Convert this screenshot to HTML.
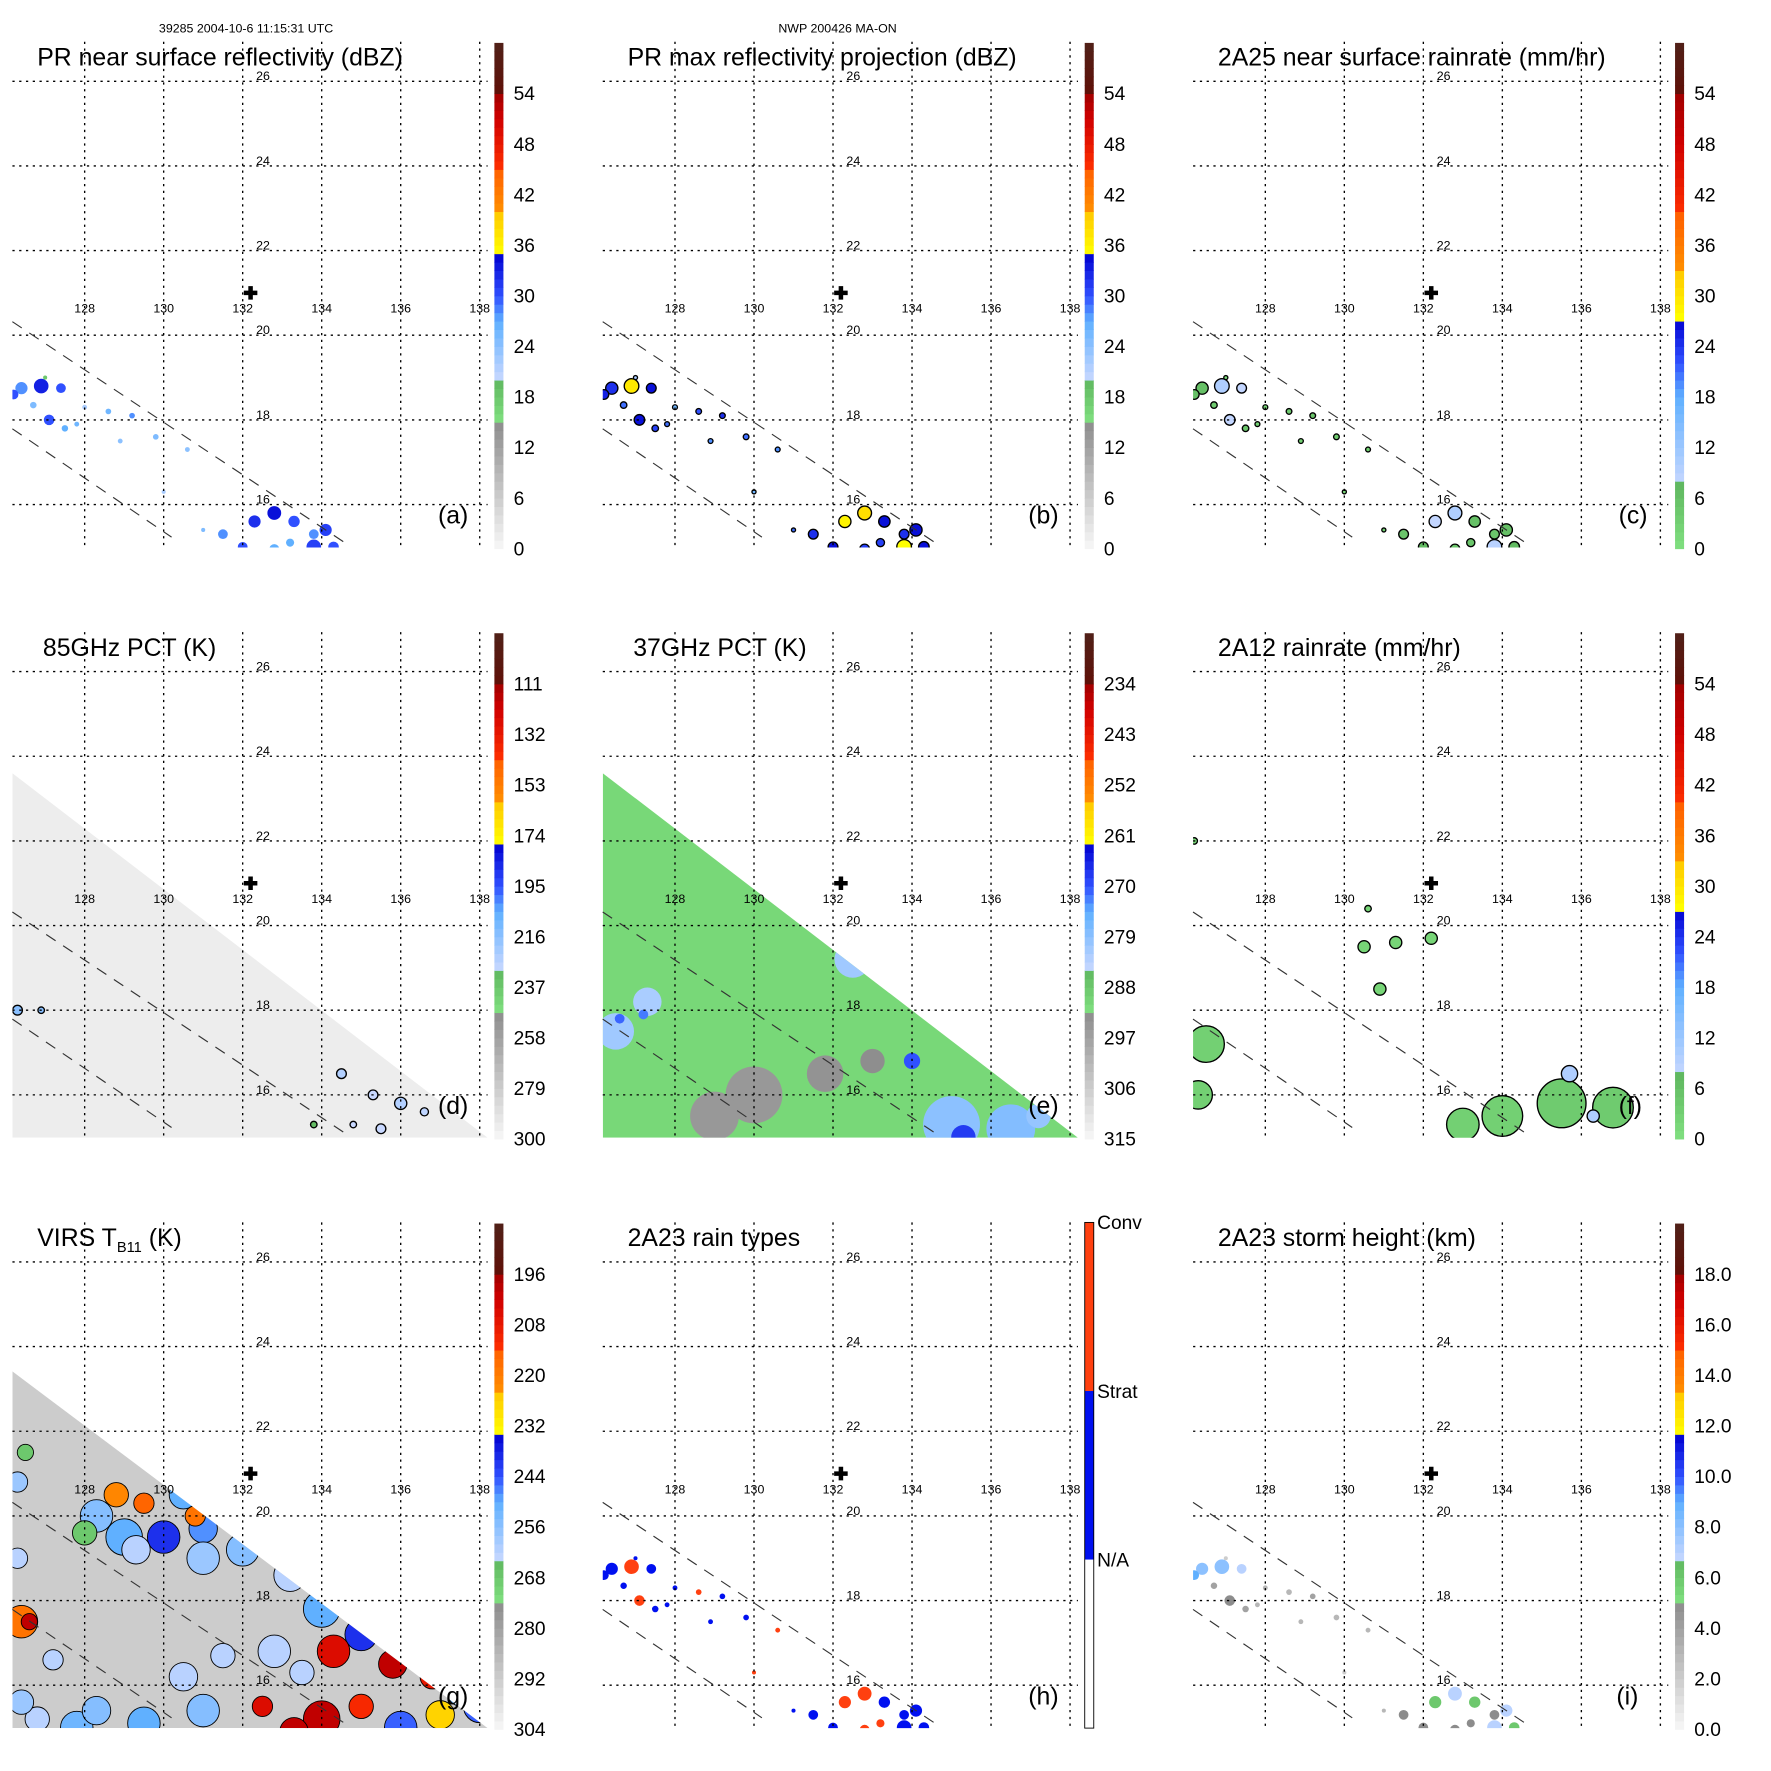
<!DOCTYPE html>
<html><head><meta charset="utf-8"><style>
html,body{margin:0;padding:0;background:#fff;}
svg{display:block;font-family:"Liberation Sans",sans-serif;}
</style></head><body>
<svg id="fig" width="1771" height="1771" viewBox="0 0 1569 1569" xmlns="http://www.w3.org/2000/svg">
<text x="218" y="29" font-size="11" text-anchor="middle">39285 2004-10-6 11:15:31 UTC</text>
<text x="742" y="29" font-size="11" text-anchor="middle">NWP 200426 MA-ON</text>
</svg>
<script>
// ---- data arrays ----
const gridLons = [128,130,132,134,136,138];
const gridLats = [26,24,22,20,18,16];
const stormCenter = [132.2, 21.0];
const prLon  = [126.4,126.9,127.4,126.7,127.1,127.5,128.0,128.6,129.2,129.8,130.6,131.0,131.5,132.3,132.8,133.3,133.8,132.0,132.8,133.8,134.3,133.2,127.0,128.9,130.0,126.2,127.8,134.1];
const prLat  = [18.75,18.8,18.75,18.35,18.0,17.8,18.3,18.2,18.1,17.6,17.3,15.4,15.3,15.6,15.8,15.6,15.3,15.0,14.95,15.0,15.0,15.1,19.0,17.5,16.3,18.6,17.9,15.4];
const prSize = [0.15,0.18,0.12,0.08,0.13,0.08,0.06,0.07,0.07,0.07,0.06,0.05,0.12,0.15,0.17,0.14,0.12,0.12,0.12,0.18,0.13,0.1,0.05,0.06,0.05,0.12,0.06,0.15];
const reflNS  = [28,33,30,25,30,27,22,26,28,25,24,25,28,32,34,30,28,30,27,31,30,27,18,24,22,30,26,31];
const reflMax = [32,37,34,29,34,31,26,30,32,29,28,29,32,36,38,34,32,34,31,35,34,31,22,28,26,33,29,34];
const rain2A25 = [6,10,8,4,8,5,2,4,5,4,3,3,5,8,10,6,5,7,5,9,7,5,1,3,2,6,3,6];
const rainType = [1,2,1,1,2,1,1,2,1,1,2,1,1,2,2,1,1,1,2,1,1,2,1,1,2,1,1,1];
const stormH  = [8,8,7,4,5,4,3,3,4,3,3,3,5,6,7,6,5,5,5,7,6,5,2,3,2,9,3,7];
const pct85Lon = [126.3,126.9,134.5,135.3,136.0,134.8,135.5,136.6,133.8];
const pct85Lat = [18.0,18.0,16.5,16.0,15.8,15.3,15.2,15.6,15.3];
const pct85Sz  = [0.12,0.08,0.12,0.12,0.15,0.08,0.12,0.1,0.08];
const pct85Val = [215,215,225,230,225,230,230,228,232];
const pct37Lon = [130,129,131.8,133,126.5,127.3,132.5,135,136.5,134,135.3,137.2,126.6,127.2];
const pct37Lat = [16,15.5,16.5,16.8,17.5,18.2,19.2,15.3,15.2,16.8,15.0,15.5,17.8,17.9];
const pct37Sz  = [0.7,0.6,0.45,0.3,0.45,0.35,0.45,0.7,0.6,0.2,0.3,0.3,0.12,0.12];
const pct37Val = [295,295,294,293,281,282,281,279,278,270,268,280,271,272];
const r12Lon = [126.5,126.3,134,135.5,136.8,133,130.5,131.3,132.2,130.9,130.6,126.2,135.7,136.3];
const r12Lat = [17.2,16.0,15.5,15.8,15.7,15.3,19.5,19.6,19.7,18.5,20.4,22.0,16.5,15.5];
const r12Sz  = [0.45,0.35,0.5,0.6,0.5,0.4,0.15,0.15,0.15,0.15,0.08,0.08,0.2,0.15];
const r12Val = [3,3,3,4,4,3,2,2,2,2,2,2,10,10];
const virsLon = [128.3,129,130,131,132,133.2,134,135,136.5,137.5,138,136,132.8,131,129.5,127.8,126.8,126.3,126.3,128.8,129.5,130.5,130.8,131.5,132.2,133,134.5,135.3,134.3,135.8,136.8,137,134,135,132.5,133.5,126.4,126.6,127.2,126.4,128.3,130.5,131.5,126.5,128,129.3,131,136,137.5,133.3];
const virsLat = [20.0,19.5,19.5,19.7,19.2,18.6,17.8,17.2,16.8,16.3,15.5,15,16.8,15.4,15.1,15.0,15.2,20.8,19,20.5,20.3,20.5,20.0,20.3,19.8,19.2,18.2,17.8,16.8,16.5,16.2,15.3,15.2,15.5,15.5,16.3,17.5,17.5,16.6,15.6,15.4,16.2,16.7,21.5,19.6,19.2,19.0,17,15.8,14.9];
const virsSz  = [0.4,0.45,0.4,0.35,0.4,0.4,0.45,0.4,0.4,0.35,0.4,0.4,0.4,0.4,0.4,0.4,0.3,0.25,0.25,0.3,0.25,0.35,0.25,0.3,0.3,0.35,0.45,0.3,0.4,0.35,0.3,0.35,0.45,0.3,0.25,0.3,0.4,0.2,0.25,0.3,0.35,0.35,0.3,0.2,0.3,0.35,0.4,0.3,0.3,0.35];
const virsVal = [255,250,240,248,255,262,250,240,248,252,245,245,262,255,250,252,262,258,262,222,215,250,218,225,232,250,222,210,205,200,208,226,200,212,205,262,218,200,262,258,255,262,262,268,268,262,258,245,250,200];
const ticksA = ["0","6","12","18","24","30","36","42","48","54"];
const ticksD = ["300","279","258","237","216","195","174","153","132","111"];
const ticksE = ["315","306","297","288","279","270","261","252","243","234"];
const ticksG = ["304","292","280","268","256","244","232","220","208","196"];
const ticksI = ["0.0","2.0","4.0","6.0","8.0","10.0","12.0","14.0","16.0","18.0"];
const typeLabels = ["N/A","Strat","Conv"];

const reflRamp = [[0,"#f8f8f8"],[0.25,"#8c8c8c"],[0.2501,"#80e080"],[0.333,"#60b860"],[0.3331,"#c8d8ff"],[0.45,"#60b0ff"],[0.5,"#3050ff"],[0.583,"#0000d0"],[0.5831,"#ffff00"],[0.666,"#ffc800"],[0.6661,"#ff9000"],[0.75,"#ff6000"],[0.7501,"#ff3000"],[0.85,"#d00000"],[0.9,"#a00000"],[0.9001,"#601008"],[1,"#502018"]];
const rainRamp = [[0,"#80e080"],[0.125,"#60b860"],[0.1251,"#c8d8ff"],[0.3,"#60b0ff"],[0.37,"#3050ff"],[0.455,"#0000d0"],[0.4551,"#ffff00"],[0.55,"#ffc800"],[0.5501,"#ff9000"],[0.66,"#ff6000"],[0.6601,"#ff3000"],[0.8,"#d00000"],[0.9,"#a00000"],[0.9001,"#601008"],[1,"#502018"]];
function hex(c){return [parseInt(c.slice(1,3),16),parseInt(c.slice(3,5),16),parseInt(c.slice(5,7),16)];}
function rampColor(r,f){f=Math.max(0,Math.min(1,f));for(let i=1;i<r.length;i++){if(f<=r[i][0]){const a=hex(r[i-1][1]),b=hex(r[i][1]);const t=(f-r[i-1][0])/((r[i][0]-r[i-1][0])||1);return "rgb("+a.map((v,k)=>Math.round(v+(b[k]-v)*t)).join(",")+")";}}return r[r.length-1][1];}

const NS="http://www.w3.org/2000/svg";
const svg=document.getElementById('fig');
function mk(tag,attrs,parent){const e=document.createElementNS(NS,tag);for(const k in attrs)e.setAttribute(k,attrs[k]);(parent||svg).appendChild(e);return e;}

const panels=[
 {id:"a",ox:0,oy:0,title:"PR near surface reflectivity (dBZ)",ramp:reflRamp,ticks:ticksA,vmin:0,vmax:60,swath:"pr"},
 {id:"b",ox:523,oy:0,title:"PR max reflectivity projection (dBZ)",ramp:reflRamp,ticks:ticksA,vmin:0,vmax:60,swath:"pr"},
 {id:"c",ox:1046,oy:0,title:"2A25 near surface rainrate (mm/hr)",ramp:rainRamp,ticks:ticksA,vmin:0,vmax:60,swath:"pr"},
 {id:"d",ox:0,oy:523,title:"85GHz PCT (K)",ramp:reflRamp,ticks:ticksD,vmin:300,vmax:90,swath:"tmi"},
 {id:"e",ox:523,oy:523,title:"37GHz PCT (K)",ramp:reflRamp,ticks:ticksE,vmin:315,vmax:225,swath:"tmi"},
 {id:"f",ox:1046,oy:523,title:"2A12 rainrate (mm/hr)",ramp:rainRamp,ticks:ticksA,vmin:0,vmax:60,swath:"none"},
 {id:"g",ox:0,oy:1046,title:"VIRS",ramp:reflRamp,ticks:ticksG,vmin:304,vmax:184,swath:"virs"},
 {id:"h",ox:523,oy:1046,title:"2A23 rain types",ramp:null,ticks:null,swath:"pr"},
 {id:"i",ox:1046,oy:1046,title:"2A23 storm height (km)",ramp:reflRamp,ticks:ticksI,vmin:0,vmax:20,swath:"pr"}
];

panels.forEach(p=>{
 const X=lon=>p.ox+75+(lon-128)*35;
 const Y=lat=>p.oy+72-(lat-26)*37.5;
 const R=d=>d*36;
 const L=p.ox+11,T=p.oy+37,Rt=p.ox+432,B=p.oy+485;
 const g=mk('g',{});
 
 
 const cp=mk('clipPath',{id:'clip-'+p.id},g);
 let clipPts;
 if(p.swath==="tmi") clipPts=[[L,p.oy+162],[Rt,B],[L,B]];
 else if(p.swath==="virs") clipPts=[[L,p.oy+169],[Rt,B],[L,B]];
 else clipPts=[[L,T],[Rt,T],[Rt,B],[L,B]];
 mk('polygon',{points:clipPts.map(q=>q.join(',')).join(' ')},cp);
 const dg=mk('g',{'clip-path':'url(#clip-'+p.id+')'},g);
 
 
 const col=v=>rampColor(p.ramp,(v-p.vmin)/(p.vmax-p.vmin));
 function cells(lons,lats,sz,vals,stroke){
  for(let i=0;i<lons.length;i++){
   const c=mk('circle',{cx:X(lons[i]),cy:Y(lats[i]),r:R(sz[i]),fill:col(vals[i])},dg);
   if(stroke){c.setAttribute('stroke','#000');c.setAttribute('stroke-width',stroke);}
   
   
  }
 }
 if(p.id==="a") cells(prLon,prLat,prSize,reflNS,0);
 if(p.id==="b") cells(prLon,prLat,prSize,reflMax,1.2);
 if(p.id==="c") cells(prLon,prLat,prSize,rain2A25,1.2);
 if(p.id==="i") cells(prLon,prLat,prSize,stormH,0);
 if(p.id==="h"){
  for(let i=0;i<prLon.length;i++){
   const c=mk('circle',{cx:X(prLon[i]),cy:Y(prLat[i]),r:R(prSize[i]),fill:rainType[i]===2?"#ff4010":"#0010f0"},dg);
   
   
  }
 }
 if(p.id==="d"){
  mk('rect',{x:L,y:T,width:Rt-L,height:B-T,fill:"#ededed"},dg);
  cells(pct85Lon,pct85Lat,pct85Sz,pct85Val,1.2);
 }
 if(p.id==="e"){
  mk('rect',{x:L,y:T,width:Rt-L,height:B-T,fill:"#78d878"},dg);
  cells(pct37Lon,pct37Lat,pct37Sz,pct37Val,0);
 }
 if(p.id==="f") cells(r12Lon,r12Lat,r12Sz,r12Val,1.2);
 if(p.id==="g"){
  mk('rect',{x:L,y:T,width:Rt-L,height:B-T,fill:"#cccccc"},dg);
  cells(virsLon,virsLat,virsSz,virsVal,0.8);
 }
 gridLons.forEach(lon=>{
  const l=mk('line',{x1:X(lon),y1:T,x2:X(lon),y2:B,stroke:"#000","stroke-width":1.2,"stroke-dasharray":"2,4"},g);
  
  
  const t=mk('text',{x:X(lon),y:p.oy+277,'font-size':11,'text-anchor':'middle'},g);
  t.textContent=String(lon);
  
  
 });
 gridLats.forEach(lat=>{
  const l=mk('line',{x1:L,y1:Y(lat),x2:Rt,y2:Y(lat),stroke:"#000","stroke-width":1.2,"stroke-dasharray":"2,4"},g);
  
  
  const t=mk('text',{x:p.ox+233,y:Y(lat)-1,'font-size':11,'text-anchor':'middle'},g);
  t.textContent=String(lat);
  
  
 });
 [[[126.17,20.32],[134.6,15.09]],[[126.17,17.79],[130.2,15.23]]].forEach(s=>{
  const l=mk('line',{x1:X(s[0][0]),y1:Y(s[0][1]),x2:X(s[1][0]),y2:Y(s[1][1]),stroke:"#333","stroke-width":1,"stroke-dasharray":"10,8"},g);
  
  
 });
 const cx=X(stormCenter[0]),cy=Y(stormCenter[1]);
 const cr=mk('path',{d:`M${cx-6},${cy-2}h12v4h-12zM${cx-2},${cy-6}h4v12h-4z`,fill:"#000"},g);
 
 
 const tt=mk('text',{x:p.ox+(p.id==="d"||p.id==="e"?38:33),y:p.oy+58,'font-size':22},g);
 if(p.id==="g"){tt.innerHTML='VIRS T<tspan font-size="13" dy="5">B11</tspan><tspan dy="-5"> (K)</tspan>';}
 else tt.textContent=p.title;
 
 
 const lt=mk('text',{x:p.ox+(p.id==="i"?386:388),y:p.oy+464,'font-size':22},g);
 lt.textContent="("+p.id+")";
 
 
 const bx=p.ox+438,bt=p.oy+38,bb=p.oy+486,bw=8;
 const cb=mk('g',{},g);
 
 
 if(p.ramp){
  const n=60;
  for(let i=0;i<n;i++){
   const f=(i+0.5)/n;
   mk('rect',{x:bx,y:bb-(i+1)*(bb-bt)/n,width:bw,height:(bb-bt)/n+0.5,fill:rampColor(p.ramp,f)},cb);
  }
  p.ticks.forEach((lab,i)=>{
   const y=bb-i*(bb-bt)/10;
   const t=mk('text',{x:bx+17,y:y+6,'font-size':17},cb);
   t.textContent=lab;
   
   
  });
 } else {
  const segs=["#ffffff","#0010f0","#ff4010"];
  const top=p.oy+37, bot=p.oy+485, h=(bot-top)/3;
  segs.forEach((c,i)=>{
   mk('rect',{x:bx,y:bot-(i+1)*h,width:bw,height:h,fill:c},cb);
   const t=mk('text',{x:bx+11,y:bot-(i+1)*h+6,'font-size':17},cb);
   t.textContent=typeLabels[i];
   
   
  });
  mk('rect',{x:bx,y:top,width:bw,height:bot-top,fill:"none",stroke:"#000","stroke-width":0.8},cb);
 }
});
</script>
</body></html>
